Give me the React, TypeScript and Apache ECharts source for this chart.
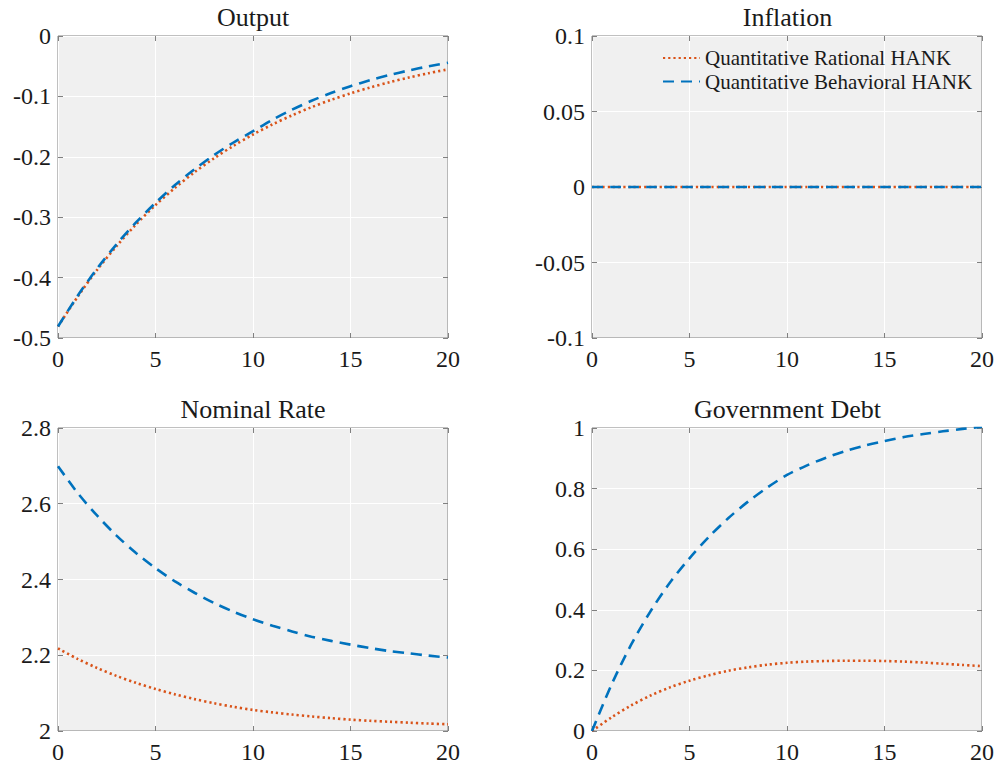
import React, { useEffect, useRef } from "react";
import * as echarts from "echarts";

const T = [0, 1, 2, 3, 4, 5, 6, 7, 8, 9, 10, 11, 12, 13, 14, 15, 16, 17, 18, 19, 20];

const SERIES_NAMES = ["Quantitative Rational HANK", "Quantitative Behavioral HANK"];
const TITLES = ["Output", "Inflation", "Nominal Rate", "Government Debt"];

const outputRational = [-0.481, -0.432, -0.3875, -0.348, -0.312, -0.28, -0.2514, -0.2256, -0.2025, -0.1818, -0.1631, -0.1464, -0.1314, -0.1179, -0.1058, -0.095, -0.0853, -0.0765, -0.0687, -0.0616, -0.0553];
const outputBehavioral = [-0.481, -0.4305, -0.3853, -0.3449, -0.3087, -0.2763, -0.2468, -0.2206, -0.1972, -0.1763, -0.1576, -0.1386, -0.122, -0.1073, -0.0944, -0.0831, -0.0733, -0.0646, -0.057, -0.0503, -0.0443];

const inflationRational = [0, 0, 0, 0, 0, 0, 0, 0, 0, 0, 0, 0, 0, 0, 0, 0, 0, 0, 0, 0, 0];
const inflationBehavioral = [0, 0, 0, 0, 0, 0, 0, 0, 0, 0, 0, 0, 0, 0, 0, 0, 0, 0, 0, 0, 0];

const rateRational = [2.218, 2.1905, 2.1665, 2.1455, 2.1272, 2.111, 2.0967, 2.0842, 2.0733, 2.0639, 2.0556, 2.0492, 2.0434, 2.0384, 2.034, 2.03, 2.027, 2.0243, 2.0219, 2.0197, 2.0177];
const rateBehavioral = [2.699, 2.629, 2.569, 2.516, 2.47, 2.43, 2.395, 2.365, 2.338, 2.315, 2.295, 2.278, 2.263, 2.249, 2.238, 2.228, 2.219, 2.211, 2.205, 2.199, 2.194];

const debtRational = [0, 0.045, 0.084, 0.117, 0.144, 0.166, 0.184, 0.199, 0.21, 0.219, 0.225, 0.229, 0.231, 0.232, 0.232, 0.231, 0.229, 0.226, 0.222, 0.218, 0.214];
const debtBehavioral = [0, 0.153, 0.284, 0.395, 0.49, 0.57, 0.641, 0.703, 0.757, 0.804, 0.845, 0.876, 0.902, 0.924, 0.942, 0.957, 0.97, 0.98, 0.989, 0.997, 1.004];

const X_MIN = 0;
const X_MAX = 20;
const X_STEP = 5;
const Y_MIN = [-0.5, -0.1, 2, 0];
const Y_MAX = [0, 0.1, 2.8, 1];
const Y_STEP = [0.1, 0.05, 0.2, 0.2];

const PANELS = [
  [outputRational, outputBehavioral],
  [inflationRational, inflationBehavioral],
  [rateRational, rateBehavioral],
  [debtRational, debtBehavioral],
];

const FONT = "Liberation Serif";
const TEXT = "#1a1a1a";
const AXIS = "#808080";
const ORANGE = "#D95319";
const BLUE = "#0072BD";

export default function App() {
  const ref = useRef<HTMLDivElement>(null);

  useEffect(() => {
    if (!ref.current) return;
    const chart = echarts.init(ref.current, undefined, { renderer: "svg" });

    const grids = [
      { left: 58, top: 36, width: 390, height: 302 },
      { left: 592, top: 36, width: 391, height: 302 },
      { left: 58, top: 428, width: 390, height: 303 },
      { left: 592, top: 428, width: 391, height: 303 },
    ];

    const xAxis: any[] = [];
    const yAxis: any[] = [];
    const series: any[] = [];

    grids.forEach((g, i) => {
      const tick = { show: true, inside: true, length: 5, lineStyle: { color: AXIS, width: 1 } };
      xAxis.push({
        gridIndex: i,
        type: "value",
        min: X_MIN,
        max: X_MAX,
        interval: X_STEP,
        position: "bottom",
        axisLine: { show: false, onZero: false },
        axisTick: tick,
        axisLabel: { fontSize: 24, fontFamily: FONT, color: TEXT, margin: 9 },
        splitLine: { show: true, lineStyle: { color: "#ffffff", width: 1 } },
      });
      xAxis.push({
        gridIndex: i,
        type: "value",
        min: X_MIN,
        max: X_MAX,
        interval: X_STEP,
        position: "top",
        axisLine: { show: false, onZero: false },
        axisTick: tick,
        axisLabel: { show: false },
        splitLine: { show: false },
      });
      yAxis.push({
        gridIndex: i,
        type: "value",
        min: Y_MIN[i],
        max: Y_MAX[i],
        interval: Y_STEP[i],
        position: "left",
        axisLine: { show: false, onZero: false },
        axisTick: tick,
        axisLabel: { fontSize: 24, fontFamily: FONT, color: TEXT, margin: 7 },
        splitLine: { show: true, lineStyle: { color: "#ffffff", width: 1 } },
      });
      yAxis.push({
        gridIndex: i,
        type: "value",
        min: Y_MIN[i],
        max: Y_MAX[i],
        interval: Y_STEP[i],
        position: "right",
        axisLine: { show: false, onZero: false },
        axisTick: tick,
        axisLabel: { show: false },
        splitLine: { show: false },
      });

      const [rat, beh] = PANELS[i];
      series.push({
        type: "line",
        name: SERIES_NAMES[0],
        xAxisIndex: 2 * i,
        yAxisIndex: 2 * i,
        data: T.map((t, k) => [t, rat[k]]),
        showSymbol: false,
        symbol: "none",
        smooth: 0.3,
        lineStyle: { color: ORANGE, width: 2.6, type: [2.2, 3], cap: "butt" },
        itemStyle: { color: ORANGE },
        z: 2,
      });
      series.push({
        type: "line",
        name: SERIES_NAMES[1],
        xAxisIndex: 2 * i,
        yAxisIndex: 2 * i,
        data: T.map((t, k) => [t, beh[k]]),
        showSymbol: false,
        symbol: "none",
        smooth: 0.3,
        lineStyle: { color: BLUE, width: 2.6, type: [11, 7], cap: "butt" },
        itemStyle: { color: BLUE },
        z: 3,
      });
    });

    const legendBase = {
      orient: "vertical",
      left: 657,
      itemWidth: 37,
      itemHeight: 14,
      itemGap: 4,
      selectedMode: false,
      itemStyle: { opacity: 0 },
      textStyle: { fontSize: 21, fontFamily: FONT, color: TEXT },
    };

    chart.setOption({
      animation: false,
      backgroundColor: "#ffffff",
      textStyle: { fontFamily: FONT },
      grid: grids.map((g) => ({
        ...g,
        show: true,
        backgroundColor: "#f0f0f0",
        borderColor: AXIS,
        borderWidth: 1,
        containLabel: false,
      })),
      xAxis,
      yAxis,
      series,
      legend: [
        { ...legendBase, top: 42.5, data: [SERIES_NAMES[0]] },
        { ...legendBase, top: 66, data: [SERIES_NAMES[1]] },
      ],
      graphic: TITLES.map((t, i) => ({
        type: "text",
        x: grids[i].left + grids[i].width / 2,
        y: grids[i].top - 19,
        style: {
          text: t,
          fontSize: 26,
          fontFamily: FONT,
          fill: TEXT,
          textAlign: "center",
          textVerticalAlign: "middle",
        },
      })),
    });

    return () => chart.dispose();
  }, []);

  return (
    <div
      ref={ref}
      style={{ position: "fixed", left: 0, top: 0, width: 997, height: 765 }}
    />
  );
}
